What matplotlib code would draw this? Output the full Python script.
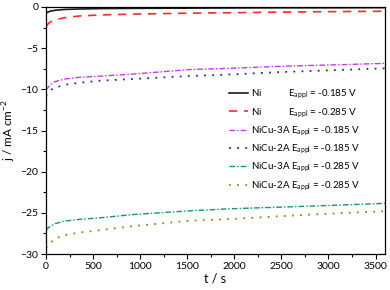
import matplotlib
matplotlib.use("Agg")
import matplotlib.pyplot as plt
from matplotlib.ticker import MultipleLocator

plt.rcParams['font.family'] = ['Lato', 'DejaVu Sans']
plt.rcParams['mathtext.fontset'] = 'custom'
plt.rcParams['mathtext.rm'] = 'Lato'

# time axis (s) and current density (mA cm-2)
t = [0, 25, 50, 100, 200, 350, 575, 930, 1530, 1960, 2500, 3000, 3600]
ni_185 = [-0.75, -0.6, -0.5, -0.4, -0.3, -0.25, -0.2, -0.17, -0.14, -0.12, -0.1, -0.1, -0.08]
ni_285 = [-2.4, -2.0, -1.8, -1.55, -1.3, -1.1, -0.97, -0.87, -0.75, -0.7, -0.63, -0.57, -0.52]
cu3a_185 = [-10.1, -9.7, -9.4, -9.05, -8.75, -8.55, -8.4, -8.14, -7.6, -7.45, -7.2, -7.05, -6.85]
cu2a_185 = [-10.8, -10.3, -10.05, -9.8, -9.45, -9.2, -8.95, -8.74, -8.38, -8.2, -7.9, -7.7, -7.45]
cu3a_285 = [-27.1, -26.8, -26.6, -26.3, -26.0, -25.8, -25.6, -25.2, -24.75, -24.5, -24.3, -24.1, -23.85]
cu2a_285 = [-29.3, -28.9, -28.6, -28.1, -27.7, -27.4, -27.1, -26.6, -25.95, -25.75, -25.4, -25.1, -24.8]

E = r'E$_\mathregular{appl}$'
labels = [
    "Ni           " + E + " = -0.185 V",
    "Ni           " + E + " = -0.285 V",
    "NiCu-3A " + E + " = -0.185 V",
    "NiCu-2A " + E + " = -0.185 V",
    "NiCu-3A " + E + " = -0.285 V",
    "NiCu-2A " + E + " = -0.285 V",
]

fig = plt.figure(figsize=(3.9, 2.9), dpi=100)
ax = fig.add_axes([0.118, 0.124, 0.869, 0.852])

ax.plot(t, ni_185, color='#1a1a1a', lw=1.2, ls='-', label=labels[0])
ax.plot(t, ni_285, color='#ff2a2a', lw=1.2, ls=(0, (5, 4)), label=labels[1])
ax.plot(t, cu3a_185, color='#cc33ff', lw=1.0, ls=(0, (4, 1.5, 1, 1.5)), label=labels[2])
ax.plot(t, cu2a_185, color='#1f2f8f', lw=1.3, ls=(0, (1, 3.5)), label=labels[3])
ax.plot(t, cu3a_285, color='#0a9a6a', lw=1.0, ls=(0, (4, 1.5, 1, 1.5)), label=labels[4])
ax.plot(t, cu2a_285, color='#8a8a10', lw=1.3, ls=(0, (1, 3.5)), label=labels[5])

ax.set_xlim(0, 3600)
ax.set_ylim(-30, 0)
ax.xaxis.set_major_locator(MultipleLocator(500))
ax.xaxis.set_minor_locator(MultipleLocator(250))
ax.yaxis.set_major_locator(MultipleLocator(5))
ax.yaxis.set_minor_locator(MultipleLocator(2.5))
ax.tick_params(which='major', direction='out', length=3.5, width=0.8, labelsize=7.5, pad=2)
ax.tick_params(which='minor', direction='out', length=2, width=0.8)
for s in ax.spines.values():
    s.set_linewidth(0.9)

ax.set_xlabel('t / s', fontsize=9, labelpad=1)
ax.set_ylabel(r'j / mA cm$^{-2}$', fontsize=8.5, labelpad=1.5)

ax.legend(loc='upper left', bbox_to_anchor=(0.54, 0.672), frameon=False, fontsize=7,
          handlelength=1.9, handletextpad=0.35, labelspacing=0.5,
          borderpad=0, borderaxespad=0)

fig.savefig('out.png', dpi=100, facecolor='white')
